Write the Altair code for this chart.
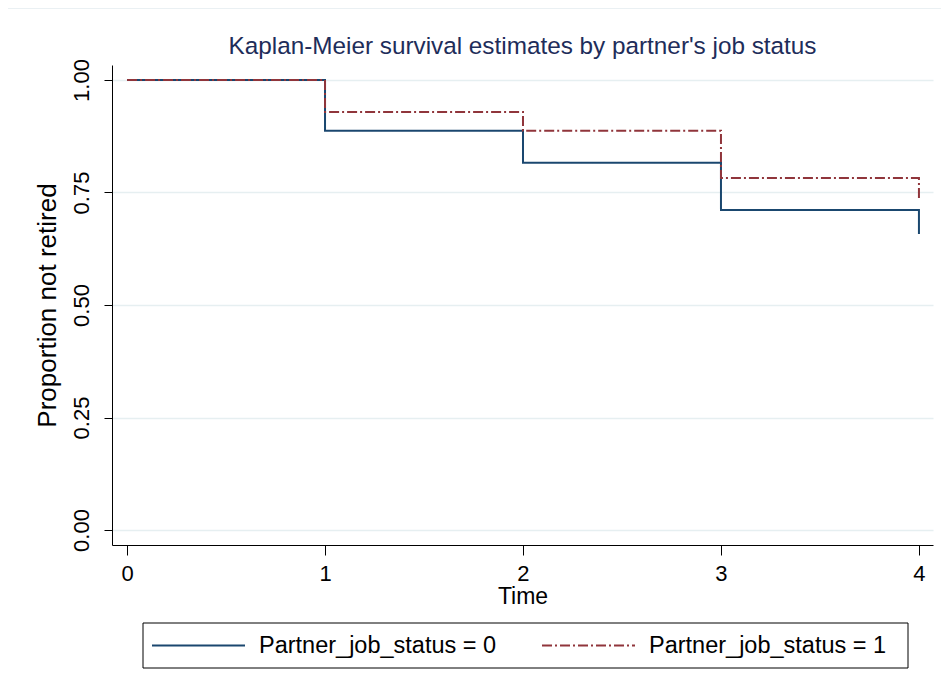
import altair as alt
import pandas as pd

# ---- data ----
times = [0, 1, 2, 3, 4, 4]
surv_group0 = [1.0, 0.887, 0.816, 0.711, 0.711, 0.658]
surv_group1 = [1.0, 0.929, 0.887, 0.782, 0.782, 0.733]
group_labels = ["Partner_job_status = 0", "Partner_job_status = 1"]
group_colors = ["#1a476f", "#90353b"]
group_dashes = [[1, 0], [10, 3, 2, 3]]
x_ticks = [0, 1, 2, 3, 4]
y_ticks = [0.0, 0.25, 0.5, 0.75, 1.0]
title_text = "Kaplan-Meier survival estimates by partner's job status"

rows = []
for i, (t, s) in enumerate(zip(times, surv_group0)):
    rows.append({"time": t, "surv": s, "group": group_labels[0], "order": i})
for i, (t, s) in enumerate(zip(times, surv_group1)):
    rows.append({"time": t, "surv": s, "group": group_labels[1], "order": i})
df = pd.DataFrame(rows)

FONT = "Liberation Sans"
W, H = 821, 480

lines = alt.Chart(df).mark_line(interpolate="step-after", strokeWidth=2).encode(
    x=alt.X("time:Q",
            scale=alt.Scale(domain=[-0.076, 4.071], nice=False, zero=False),
            axis=alt.Axis(values=x_ticks, title="Time", grid=False, format="d",
                          tickSize=10, labelPadding=8, titlePadding=1,
                          labelFontSize=22, titleFontSize=23)),
    y=alt.Y("surv:Q",
            scale=alt.Scale(domain=[-0.0333, 1.0333], nice=False, zero=False),
            axis=alt.Axis(values=y_ticks, title="Proportion not retired", format=".2f",
                          grid=True, gridColor="#e6eff1", gridWidth=1.5,
                          tickSize=8, labelAngle=270, labelAlign="center",
                          labelBaseline="alphabetic", labelPadding=16,
                          titlePadding=10, labelFontSize=22, titleFontSize=26)),
    color=alt.Color("group:N",
                    scale=alt.Scale(domain=group_labels, range=group_colors),
                    legend=None),
    strokeDash=alt.StrokeDash("group:N",
                              scale=alt.Scale(domain=group_labels, range=group_dashes),
                              legend=None),
    order="order:Q",
)

one = pd.DataFrame({"a": [0]})

# faint outer frame of the graph region (decoration)
frame = alt.Chart(one).mark_rect(
    fill=None, stroke="#e3ecef", strokeWidth=1.5, clip=False
).encode(x=alt.value(-105), x2=alt.value(900), y=alt.value(-57), y2=alt.value(700))

# chart title as a text mark centred over the plot area
title = alt.Chart(one).mark_text(
    align="center", baseline="middle", fontSize=24.3, font=FONT, color="#1e2d5a",
    clip=False
).encode(x=alt.value(W / 2), y=alt.value(-18), text=alt.value(title_text))

# manual legend (decoration)
legend_box = alt.Chart(one).mark_rect(
    fill="white", stroke="black", strokeWidth=1, clip=False
).encode(x=alt.value(31), x2=alt.value(796), y=alt.value(558), y2=alt.value(603))

legend_parts = [legend_box]
sym_x = [40, 430]
for gi in range(2):
    legend_parts.append(
        alt.Chart(one).mark_rule(
            color=group_colors[gi], strokeWidth=2, strokeDash=group_dashes[gi], clip=False
        ).encode(x=alt.value(sym_x[gi]), x2=alt.value(sym_x[gi] + 93),
                 y=alt.value(580.5), y2=alt.value(580.5))
    )
    legend_parts.append(
        alt.Chart(one).mark_text(
            align="left", baseline="middle", fontSize=23.5, font=FONT, color="black",
            clip=False
        ).encode(x=alt.value(sym_x[gi] + 107), y=alt.value(581),
                 text=alt.value(group_labels[gi]))
    )

chart = alt.layer(frame, lines, title, *legend_parts).properties(
    width=W, height=H,
    autosize=alt.AutoSizeParams(type="none"),
    padding={"left": 104, "top": 57, "right": 8, "bottom": 140},
).configure(
    font=FONT,
).configure_view(
    stroke=None,
).configure_axis(
    domainColor="black", tickColor="black", labelColor="black", titleColor="black",
    labelFont=FONT, titleFont=FONT, titleFontWeight="normal",
    domainWidth=1, tickWidth=1,
)

chart.save("out.html", embed_options={"renderer": "svg", "actions": False})
